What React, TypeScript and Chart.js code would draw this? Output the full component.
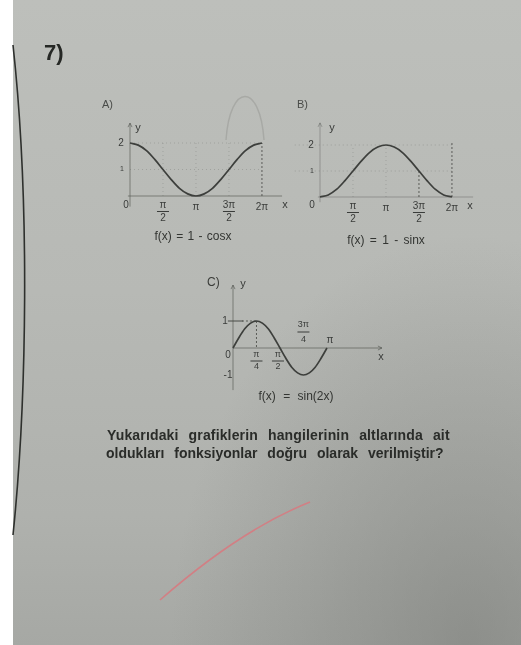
import React, { useEffect, useRef } from "react";
import { Chart, registerables } from "chart.js";

Chart.register(...registerables);

// ---- data (x in radians) ----
const xA = [0, 0.393, 0.785, 1.178, 1.571, 1.963, 2.356, 2.749, 3.142, 3.534, 3.927, 4.32, 4.712, 5.105, 5.498, 5.89, 6.283];
const yA = [2, 1.92, 1.71, 1.38, 1, 0.62, 0.29, 0.08, 0, 0.08, 0.29, 0.62, 1, 1.38, 1.71, 1.92, 2];
const xB = [0, 0.393, 0.785, 1.178, 1.571, 1.963, 2.356, 2.749, 3.142, 3.534, 3.927, 4.32, 4.712, 5.105, 5.498, 5.89, 6.283];
const yB = [0, 0.08, 0.29, 0.62, 1, 1.38, 1.71, 1.92, 2, 1.92, 1.71, 1.38, 1, 0.62, 0.29, 0.08, 0];
const xC = [0, 0.196, 0.393, 0.589, 0.785, 0.982, 1.178, 1.374, 1.571, 1.767, 1.963, 2.16, 2.356, 2.553, 2.749, 2.945, 3.142];
const yC = [0, 0.38, 0.71, 0.92, 1, 0.92, 0.71, 0.38, 0, -0.38, -0.71, -0.92, -1, -0.92, -0.71, -0.38, 0];

type Lbl = { v: number; text?: string; num?: string; den?: string; above?: boolean; dx?: number; dy?: number; size?: number };

const xTicksA: Lbl[] = [
  { v: 1.571, num: "π", den: "2" },
  { v: 3.142, text: "π" },
  { v: 4.712, num: "3π", den: "2" },
  { v: 6.283, text: "2π" },
];
const yTicksA: Lbl[] = [
  { v: 2, text: "2", dx: -9 },
  { v: 1, text: "1", dx: -8, size: 7 },
  { v: 0, text: "0", dx: -4, dy: 9 },
];
const xTicksB: Lbl[] = [
  { v: 1.571, num: "π", den: "2" },
  { v: 3.142, text: "π" },
  { v: 4.712, num: "3π", den: "2" },
  { v: 6.283, text: "2π" },
];
const yTicksB: Lbl[] = [
  { v: 2, text: "2", dx: -9 },
  { v: 1, text: "1", dx: -8, size: 7 },
  { v: 0, text: "0", dx: -8, dy: 8 },
];
const xTicksC: Lbl[] = [
  { v: 0.785, num: "π", den: "4" },
  { v: 1.571, num: "π", den: "2", dx: -2 },
  { v: 2.356, num: "3π", den: "4", above: true },
  { v: 3.142, text: "π", above: true, dx: 3 },
];
const yTicksC: Lbl[] = [
  { v: 1, text: "1", dx: -8 },
  { v: 0, text: "0", dx: -5, dy: 7 },
  { v: -1, text: "-1", dx: -5 },
];

type Spec = {
  rect: { left: number; top: number; width: number; height: number };
  origin: { x: number; y: number };
  ppu: { x: number; y: number };
  xs: number[];
  ys: number[];
  xAxis: [number, number];
  yAxis: [number, number];
  gridH: number[];
  gridV: number[];
  gridX: [number, number];
  gridY: [number, number];
  guides: number[][];
  solid: number[][];
  xLabels: Lbl[];
  yLabels: Lbl[];
  font: number;
  fracFont: number;
  frac: [number, number, number];
  fracAbove: [number, number, number];
  xName: [number, number];
  yName: [number, number];
  axisAlpha: number;
  xArrow: boolean;
};

const FONT = '"Liberation Sans", Arial, sans-serif';

const specA: Spec = {
  rect: { left: 98, top: 112, width: 200, height: 112 },
  origin: { x: 130, y: 196 },
  ppu: { x: 21, y: 26.5 },
  xs: xA,
  ys: yA,
  xAxis: [-0.1, 7.24],
  yAxis: [-0.4, 2.75],
  gridH: [1, 2],
  gridV: [1.571, 3.142, 4.712],
  gridX: [0, 6.283],
  gridY: [0, 2],
  guides: [[6.283, 0, 6.283, 2]],
  solid: [],
  xLabels: xTicksA,
  yLabels: yTicksA,
  font: 10,
  fracFont: 10,
  frac: [9, 15.5, 22],
  fracAbove: [-23, -16, -8],
  xName: [3, 9],
  yName: [8, 5],
  axisAlpha: 0.55,
  xArrow: false,
};

const specB: Spec = {
  rect: { left: 290, top: 112, width: 200, height: 112 },
  origin: { x: 320, y: 197 },
  ppu: { x: 21, y: 26 },
  xs: xB,
  ys: yB,
  xAxis: [-0.1, 7.29],
  yAxis: [-0.2, 2.85],
  gridH: [1, 2],
  gridV: [1.571, 3.142],
  gridX: [-1.2, 6.283],
  gridY: [0, 2],
  guides: [
    [4.712, 0, 4.712, 1],
    [6.283, 0, 6.283, 2.1],
  ],
  solid: [],
  xLabels: xTicksB,
  yLabels: yTicksB,
  font: 10,
  fracFont: 10,
  frac: [9, 15.5, 22],
  fracAbove: [-23, -16, -8],
  xName: [-3, 9],
  yName: [12, 5],
  axisAlpha: 0.35,
  xArrow: false,
};

const specC: Spec = {
  rect: { left: 200, top: 272, width: 200, height: 120 },
  origin: { x: 233, y: 348 },
  ppu: { x: 29.9, y: 27 },
  xs: xC,
  ys: yC,
  xAxis: [0, 4.98],
  yAxis: [-1.56, 2.33],
  gridH: [],
  gridV: [],
  gridX: [0, 0],
  gridY: [0, 0],
  guides: [
    [0.785, 1, 0.785, 0],
    [0.3, 1, 0.785, 1],
  ],
  solid: [[-0.17, 1, 0.33, 1]],
  xLabels: xTicksC,
  yLabels: yTicksC,
  font: 10,
  fracFont: 9,
  frac: [7, 13, 19],
  fracAbove: [-23, -16, -8],
  xName: [-1, 9],
  yName: [10, -1],
  axisAlpha: 0.55,
  xArrow: true,
};

function makeDecor(spec: Spec) {
  return {
    id: "decor",
    beforeDatasetsDraw(chart: any) {
      const ctx: CanvasRenderingContext2D = chart.ctx;
      const sx = chart.scales.x;
      const sy = chart.scales.y;
      const px = (v: number) => sx.getPixelForValue(v);
      const py = (v: number) => sy.getPixelForValue(v);
      const seg = (x1: number, y1: number, x2: number, y2: number) => {
        ctx.beginPath();
        ctx.moveTo(x1, y1);
        ctx.lineTo(x2, y2);
        ctx.stroke();
      };
      ctx.save();
      ctx.lineWidth = 1;
      ctx.strokeStyle = "rgba(95,97,93,0.28)";
      ctx.setLineDash([1, 3]);
      spec.gridH.forEach((v) => seg(px(spec.gridX[0]), py(v), px(spec.gridX[1]), py(v)));
      spec.gridV.forEach((v) => seg(px(v), py(spec.gridY[0]), px(v), py(spec.gridY[1])));
      ctx.strokeStyle = "rgba(60,62,58,0.75)";
      ctx.setLineDash([2, 2]);
      spec.guides.forEach((g) => seg(px(g[0]), py(g[1]), px(g[2]), py(g[3])));
      ctx.setLineDash([]);
      ctx.strokeStyle = "rgba(55,57,53,0.85)";
      spec.solid.forEach((g) => seg(px(g[0]), py(g[1]), px(g[2]), py(g[3])));
      ctx.strokeStyle = `rgba(70,72,68,${spec.axisAlpha})`;
      const ox = px(0);
      const oy = py(0);
      const xEnd = px(spec.xAxis[1]);
      const yTop = py(spec.yAxis[1]);
      seg(px(spec.xAxis[0]), oy, xEnd, oy);
      seg(ox, py(spec.yAxis[0]), ox, yTop);
      ctx.beginPath();
      ctx.moveTo(ox - 2, yTop + 4);
      ctx.lineTo(ox, yTop);
      ctx.lineTo(ox + 2, yTop + 4);
      ctx.stroke();
      if (spec.xArrow) {
        ctx.beginPath();
        ctx.moveTo(xEnd - 4, oy - 2);
        ctx.lineTo(xEnd, oy);
        ctx.lineTo(xEnd - 4, oy + 2);
        ctx.stroke();
      }
      ctx.restore();
    },
    afterDatasetsDraw(chart: any) {
      const ctx: CanvasRenderingContext2D = chart.ctx;
      const sx = chart.scales.x;
      const sy = chart.scales.y;
      const px = (v: number) => sx.getPixelForValue(v);
      const py = (v: number) => sy.getPixelForValue(v);
      const ox = px(0);
      const oy = py(0);
      ctx.save();
      ctx.fillStyle = "#3a3c3a";
      ctx.strokeStyle = "#3a3c3a";
      ctx.textAlign = "center";
      ctx.textBaseline = "middle";
      ctx.lineWidth = 1;
      spec.xLabels.forEach((l) => {
        const x = px(l.v) + (l.dx || 0);
        if (l.num) {
          const off = l.above ? spec.fracAbove : spec.frac;
          ctx.font = `${spec.fracFont}px ${FONT}`;
          ctx.fillText(l.num, x, oy + off[0]);
          ctx.fillText(l.den || "", x, oy + off[2]);
          ctx.beginPath();
          ctx.moveTo(x - 6, oy + off[1]);
          ctx.lineTo(x + 6, oy + off[1]);
          ctx.stroke();
        } else {
          ctx.font = `${spec.font}px ${FONT}`;
          ctx.fillText(l.text || "", x, oy + (l.above ? -8 : 11));
        }
      });
      spec.yLabels.forEach((l) => {
        ctx.font = `${l.size || spec.font}px ${FONT}`;
        ctx.fillText(l.text || "", ox + (l.dx || 0), py(l.v) + (l.dy || 0));
      });
      ctx.font = `${spec.font + 1}px ${FONT}`;
      ctx.fillText("x", px(spec.xAxis[1]) + spec.xName[0], oy + spec.xName[1]);
      ctx.fillText("y", ox + spec.yName[0], py(spec.yAxis[1]) + spec.yName[1]);
      ctx.restore();
    },
  };
}

function Graph({ spec }: { spec: Spec }) {
  const ref = useRef<HTMLCanvasElement | null>(null);
  useEffect(() => {
    const { rect, origin, ppu } = spec;
    const xmin = (rect.left - origin.x) / ppu.x;
    const xmax = (rect.left + rect.width - origin.x) / ppu.x;
    const ymax = (origin.y - rect.top) / ppu.y;
    const ymin = (origin.y - rect.top - rect.height) / ppu.y;
    const chart = new Chart(ref.current as HTMLCanvasElement, {
      type: "line",
      data: {
        datasets: [
          {
            data: spec.xs.map((x, i) => ({ x, y: spec.ys[i] })),
            borderColor: "#3d3f3c",
            borderWidth: 1.7,
            pointRadius: 0,
            cubicInterpolationMode: "monotone",
            fill: false,
          },
        ],
      },
      options: {
        animation: false,
        responsive: false,
        maintainAspectRatio: false,
        events: [],
        layout: { padding: 0 },
        scales: {
          x: { type: "linear", min: xmin, max: xmax, display: false },
          y: { type: "linear", min: ymin, max: ymax, display: false },
        },
        plugins: { legend: { display: false }, tooltip: { enabled: false } },
      },
      plugins: [makeDecor(spec)],
    } as any);
    return () => chart.destroy();
  }, [spec]);
  const r = spec.rect;
  return (
    <canvas
      ref={ref}
      width={r.width}
      height={r.height}
      style={{ position: "absolute", left: r.left, top: r.top, width: r.width, height: r.height }}
    />
  );
}

const txt = (extra: React.CSSProperties): React.CSSProperties => ({
  position: "absolute",
  whiteSpace: "nowrap",
  fontFamily: FONT,
  color: "#333532",
  ...extra,
});

export default function App() {
  return (
    <div
      style={{
        position: "absolute",
        left: 0,
        top: 0,
        width: 521,
        height: 645,
        overflow: "hidden",
        background:
          "radial-gradient(ellipse at 90% 100%, rgba(120,122,118,0.55) 0%, rgba(120,122,118,0) 45%), linear-gradient(180deg, #bdbfbb 0%, #b7b9b5 45%, #afb1ad 80%, #a6a8a4 100%)",
      }}
    >
      <div style={{ position: "absolute", left: 0, top: 0, width: 13, height: 645, background: "#ffffff" }} />
      <svg width={521} height={645} style={{ position: "absolute", left: 0, top: 0 }}>
        <path d="M13,45 C30,200 27,400 13,535" stroke="#2e302d" strokeWidth={1.6} fill="none" />
        <path d="M160,600 Q240,530 310,502" stroke="#d27f84" strokeWidth={1.6} fill="none" />
        <path d="M226,140 C230,82 260,82 264,140" stroke="rgba(110,112,108,0.25)" strokeWidth={1.4} fill="none" />
      </svg>
      <div style={{ filter: "blur(0.35px)" }}>
        <div style={txt({ left: 44, top: 40, fontSize: 22, fontWeight: 700, color: "#262825" })}>7)</div>
        <div style={txt({ left: 102, top: 98, fontSize: 11, color: "#4a4c49" })}>A)</div>
        <div style={txt({ left: 297, top: 98, fontSize: 11, color: "#4a4c49" })}>B)</div>
        <div style={txt({ left: 207, top: 275, fontSize: 12, color: "#3a3c39" })}>C)</div>
        <Graph spec={specA} />
        <Graph spec={specB} />
        <Graph spec={specC} />
        <div style={txt({ left: 143, top: 229, fontSize: 12, width: 100, textAlign: "center", wordSpacing: 1 })}>f(x) = 1 - cosx</div>
        <div style={txt({ left: 336, top: 233, fontSize: 12, width: 100, textAlign: "center", wordSpacing: 2 })}>f(x) = 1 - sinx</div>
        <div style={txt({ left: 246, top: 389, fontSize: 12, width: 100, textAlign: "center", wordSpacing: 4 })}>f(x) = sin(2x)</div>
        <div style={txt({ left: 107, top: 427, fontSize: 14, fontWeight: 700, color: "#2a2c29", wordSpacing: 6, letterSpacing: 0.15 })}>
          Yukarıdaki grafiklerin hangilerinin altlarında ait
        </div>
        <div style={txt({ left: 106, top: 445, fontSize: 14, fontWeight: 700, color: "#2a2c29", wordSpacing: 6 })}>
          oldukları fonksiyonlar doğru olarak verilmiştir?
        </div>
      </div>
    </div>
  );
}
